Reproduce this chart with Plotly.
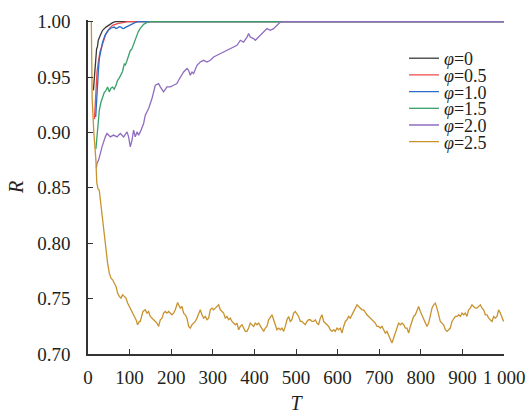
import plotly.graph_objects as go

# ---------------- data ----------------
names = ["φ=0", "φ=0.5", "φ=1.0", "φ=1.5", "φ=2.0", "φ=2.5"]
colors = ["#3a3a3a", "#ee4a4a", "#2a6cc8", "#3aa06a", "#8f6cbf", "#c8922e"]

phi00_T = [13, 15.1, 17.5, 20.7, 22.5, 24.8, 29.6, 35.1, 43.3, 51.2, 59.1, 66, 1000]
phi00_R = [0.938, 0.9486, 0.9636, 0.9757, 0.9770, 0.9832, 0.9877, 0.9922, 0.9951, 0.9973, 0.9991, 1.0, 1.0]

phi05_T = [15.5, 17.5, 19.2, 21.6, 24.8, 28.8, 32.7, 37.5, 43.3, 51.2, 59.1, 71.2, 87.3, 95, 1000]
phi05_R = [0.912, 0.925, 0.9426, 0.9546, 0.9636, 0.9726, 0.9771, 0.9832, 0.9892, 0.9937, 0.9967, 0.9982, 0.9996, 1.0, 1.0]

phi10_T = [18.5, 20, 21.6, 24.8, 27.2, 31.3, 35.1, 40.9, 48.8, 55.3, 63.2, 67, 71.2, 75, 79.3, 83, 85.6,
           91.3, 99.3, 107.2, 115.4, 122, 1000]
phi10_R = [0.914, 0.925, 0.9426, 0.9546, 0.9667, 0.9757, 0.9816, 0.9877, 0.9922, 0.9943, 0.9951, 0.9938,
           0.9943, 0.9955, 0.9951, 0.9940, 0.9937, 0.9951, 0.9967, 0.9982, 0.9996, 1.0, 1.0]

phi15_T = [19, 20.5, 23.1, 27.2, 31, 35.1, 39, 43.3, 47.1, 51.2, 55, 59.1, 63, 67.3, 71.2, 75, 79.3, 83,
           87.3, 90, 93.8, 97, 101.7, 105, 109.6, 113, 117.8, 121, 125.7, 133.7, 141.8, 150, 1000]
phi15_R = [0.885, 0.892, 0.905, 0.920, 0.927, 0.932, 0.936, 0.938, 0.941, 0.9366, 0.940, 0.941, 0.939,
           0.9426, 0.9471, 0.949, 0.953, 0.955, 0.962, 0.961, 0.965, 0.968, 0.974, 0.975, 0.980, 0.984,
           0.989, 0.991, 0.994, 0.9976, 0.9994, 1.0, 1.0]

phi20_T = [20, 21.6, 25.5, 29.6, 33.7, 41.6, 45.7, 53.6, 61.5, 69.7, 77.6, 85.6, 93.8, 97.6, 101.7, 105.8,
           109.6, 113.7, 117.8, 121.6, 125.7, 133.7, 137.7, 145.7, 153.8, 161.8, 169.7, 173.8, 181.7,
           189.9, 197.8, 205.8, 213.9, 217.8, 221.9, 229.8, 238.0, 241.8, 245.9, 250.0, 253.8, 262.0,
           270.0, 277.9, 286.1, 294.0, 301.9, 310.1, 318.0, 326.0, 334.1, 342.1, 350.0, 358.2, 366.1,
           374.0, 382.2, 386.1, 390.1, 398.1, 402.2, 406.3, 414.2, 422.1, 430.3, 438.2, 446.2, 454.3,
           458.2, 462.3, 470, 1000]
phi20_R = [0.868, 0.8721, 0.8750, 0.8811, 0.8870, 0.8960, 0.8991, 0.8960, 0.8976, 0.8960, 0.8991, 0.8960,
           0.9005, 0.8960, 0.8870, 0.8931, 0.9021, 0.8960, 0.9005, 0.8976, 0.9005, 0.9081, 0.9156,
           0.9216, 0.9306, 0.9426, 0.9441, 0.9411, 0.9366, 0.9411, 0.9411, 0.9426, 0.9441, 0.9471,
           0.9501, 0.9546, 0.9577, 0.9561, 0.9516, 0.9546, 0.9532, 0.9606, 0.9636, 0.9651, 0.9636,
           0.9651, 0.9681, 0.9696, 0.9712, 0.9726, 0.9741, 0.9757, 0.9771, 0.9786, 0.9832, 0.9816,
           0.9861, 0.9892, 0.9861, 0.9847, 0.9832, 0.9847, 0.9877, 0.9906, 0.9937, 0.9922, 0.9937,
           0.9967, 0.9982, 0.9996, 1.0, 1.0]

phi25_T = [8, 8.5, 10, 14, 19, 21, 24, 27, 31.3, 35.1, 39.2, 43.3, 47.1, 51.2, 55.3, 59.1, 63.2, 67.3,
           71.2, 75.2, 79.3, 83.2, 87.3, 91.3, 95.2, 99.3, 103.4, 107.2, 111.3, 115.4, 119.2, 123.3,
           125.7, 132.1, 137.7, 141.7, 145.7, 149.7, 157.8, 165.8, 169.8, 173.8, 177.8, 181.8, 185.8,
           189.8, 193.8, 197.8, 201.8, 205.8, 209.8, 213.8, 215.4, 217.8, 221.9, 225.9, 229.9, 233.9,
           237.9, 241.9, 245.9, 249.9, 253.9, 257.9, 261.9, 265.9, 269.9, 273.9, 278.0, 282.0, 286.0,
           290.0, 294.0, 298.0, 302.0, 306.0, 310.0, 314.0, 318.0, 322.0, 326.0, 330.0, 334.0, 338.0,
           342.1, 346.1, 350.1, 354.1, 358.1, 362.1, 366.1, 370.1, 374.1, 378.1, 382.1, 386.1, 390.1,
           394.1, 398.1, 402.1, 406.2, 410.2, 414.2, 418.2, 422.2, 426.2, 430.2, 434.2, 438.2, 442.2,
           446.2, 450.2, 454.2, 458.2, 462.2, 466.3, 470.3, 474.3, 478.3, 482.3, 486.3, 490.3, 494.3,
           498.3, 502.3, 506.3, 510.3, 514.3, 518.3, 522.3, 526.4, 530.4,
           534.4, 538.4, 542.4, 546.4, 550.4, 554.4, 558.4, 562.4, 566.5, 570.5, 574.5, 578.5, 582.5,
           586.5, 590.5, 594.5, 598.5, 602.5, 606.5, 610.5, 614.5, 618.5, 622.5, 626.5, 630.6, 634.6,
           638.6, 642.6, 646.6, 650.6, 654.6, 658.6, 662.6, 666.6, 670.6, 674.6, 678.6, 682.6, 686.6,
           690.7, 694.7, 698.7, 702.7, 706.7, 710.7, 714.7, 718.7, 722.7, 726.7, 730.7, 734.7, 738.7,
           742.7, 746.7, 750.8, 754.8, 758.8, 762.8, 766.8, 770.8, 774.8, 778.8, 782.8, 786.8, 790.8,
           794.8, 798.8, 802.8, 806.8, 810.9, 814.9, 818.9, 822.9, 826.9, 830.9, 834.9, 838.9, 842.9,
           846.9, 850.9, 854.9, 858.9, 862.9, 866.9, 870.9, 874.9, 879.0, 883.0, 887.0, 891.0, 895.0,
           899.0, 903.0, 907.0, 911.0, 915.0, 919.0, 923.0, 927.0, 931.1, 935.1, 939.1, 943.1, 947.1,
           951.1, 955.1, 959.1, 963.1, 967.1, 971.1, 975.1, 979.1, 983.1, 987.1, 991.1, 995.1, 999.1]
phi25_R = [1.0, 0.96, 0.93, 0.90, 0.875, 0.855, 0.849, 0.848, 0.833, 0.821, 0.806, 0.794, 0.782, 0.773,
           0.7685, 0.767, 0.764, 0.761, 0.755, 0.752, 0.7505, 0.7534, 0.752, 0.7505, 0.746, 0.743, 0.740,
           0.737, 0.734, 0.731, 0.7264, 0.7294,
           0.7294, 0.7384, 0.7399, 0.7369, 0.7384, 0.7339, 0.7309, 0.7279, 0.7249, 0.7309, 0.7324, 0.7369,
           0.7384, 0.7369, 0.7384, 0.7369, 0.7354, 0.7369, 0.7399, 0.7444, 0.7465, 0.7444, 0.7414, 0.7429,
           0.7369, 0.7354, 0.7324, 0.7249, 0.7234, 0.7264, 0.7279, 0.7294, 0.7324, 0.7369, 0.7399, 0.7354,
           0.7324, 0.7339, 0.7309, 0.7324, 0.7399, 0.7414, 0.7399, 0.7414, 0.7429, 0.7444, 0.7399, 0.7384,
           0.7369, 0.7324, 0.7339, 0.7309, 0.7324, 0.7294, 0.7279, 0.7264, 0.7279, 0.7219, 0.7249, 0.7264,
           0.7234, 0.7204, 0.7204, 0.7234, 0.7279, 0.7264, 0.7249, 0.7279, 0.7264, 0.7279, 0.7249, 0.7234,
           0.7204, 0.7234, 0.7249, 0.7309, 0.7339, 0.7354, 0.7309, 0.7264, 0.7219, 0.7234, 0.7219, 0.7234,
           0.7204, 0.7249, 0.7309, 0.7339, 0.7294, 0.7309, 0.7369, 0.7384, 0.7354, 0.7339, 0.7294, 0.7294,
           0.7279, 0.7264, 0.7294, 0.7309,
           0.7309, 0.7294, 0.7294, 0.7309, 0.7279, 0.7264, 0.7324, 0.7354, 0.7294, 0.7279, 0.7264, 0.7249,
           0.7219, 0.7204, 0.7219, 0.7204, 0.7234, 0.7219, 0.7234, 0.7189, 0.7249, 0.7294, 0.7309, 0.7339,
           0.7324, 0.7354, 0.7399, 0.7414, 0.7444, 0.7429, 0.7414, 0.7399, 0.7399, 0.7369, 0.7354, 0.7339,
           0.7324, 0.7309, 0.7294, 0.7279, 0.7249, 0.7249, 0.7234, 0.7249, 0.7219, 0.7189, 0.7204, 0.7174,
           0.7129, 0.7099, 0.7144, 0.7189, 0.7219, 0.7279, 0.7264, 0.7279, 0.7264, 0.7234, 0.7234, 0.7189,
           0.7249, 0.7294, 0.7339, 0.7354, 0.7384, 0.7429, 0.7384, 0.7354, 0.7324, 0.7294, 0.7249, 0.7279,
           0.7339, 0.7414, 0.7444, 0.7459, 0.7414, 0.7339, 0.7294, 0.7279, 0.7264, 0.7219, 0.7204, 0.7219,
           0.7234, 0.7294, 0.7324, 0.7339, 0.7339, 0.7354, 0.7339, 0.7369, 0.7354, 0.7369, 0.7339, 0.7399,
           0.7414, 0.7444, 0.7429, 0.7414, 0.7414, 0.7429, 0.7444, 0.7414, 0.7399, 0.7354, 0.7354, 0.7324,
           0.7309, 0.7294, 0.7339, 0.7324, 0.7339, 0.7399, 0.7369, 0.7324, 0.7294]

x_tickvals = [0, 100, 200, 300, 400, 500, 600, 700, 800, 900, 1000]
x_ticktext = ["0", "100", "200", "300", "400", "500", "600", "700", "800", "900", "1 000"]
y_tickvals = [0.70, 0.75, 0.80, 0.85, 0.90, 0.95, 1.00]
y_ticktext = ["0.70", "0.75", "0.80", "0.85", "0.90", "0.95", "1.00"]

series_T = [phi00_T, phi05_T, phi10_T, phi15_T, phi20_T, phi25_T]
series_R = [phi00_R, phi05_R, phi10_R, phi15_R, phi20_R, phi25_R]

# ---------------- figure ----------------
SERIF = "Liberation Serif"
INK = "#231f20"

fig = go.Figure()
legend_ids = ["legend", "legend2", "legend3", "legend4", "legend5", "legend6"]
for i, (nm, c, T, R) in enumerate(zip(names, colors, series_T, series_R)):
    label = "<i>φ</i>" + nm[1:]
    fig.add_trace(go.Scatter(x=T, y=R, mode="lines", name=label,
                             line=dict(color=c, width=1.3),
                             legend=legend_ids[i], showlegend=True))

W, H = 528, 414
ml, mr, mt, mb = 88, 24, 20, 60
plot_h = H - mt - mb
layout_legends = {}
for i, lid in enumerate(legend_ids):
    y_px = 58.5 + i * 16.7
    layout_legends[lid] = dict(
        x=(404 - ml) / (W - ml - mr), xanchor="left",
        y=(H - mb - y_px) / plot_h, yanchor="middle",
        bgcolor="rgba(0,0,0,0)", borderwidth=0,
        font=dict(family=SERIF, size=18, color=INK),
        itemwidth=30, visible=True,
    )

fig.update_layout(
    width=W, height=H,
    margin=dict(l=ml, r=mr, t=mt, b=mb, autoexpand=False),
    paper_bgcolor="white", plot_bgcolor="white",
    font=dict(family=SERIF, size=19, color=INK),
    showlegend=True,
    **layout_legends,
)

fig.update_xaxes(
    range=[0, 1000], tickvals=x_tickvals, ticktext=x_ticktext, automargin=False,
    showgrid=False, zeroline=False, showline=True, linecolor="#333333", linewidth=1.5,
    ticks="inside", ticklen=5, tickwidth=1.3, tickcolor="#333333",
    tickfont=dict(family=SERIF, size=19, color=INK), ticklabelstandoff=5,
    title=dict(text="<i>T</i>", font=dict(family=SERIF, size=20, color=INK), standoff=15),
)
fig.update_yaxes(
    range=[0.70, 1.0015], tickvals=y_tickvals, ticktext=y_ticktext, automargin=False,
    showgrid=False, zeroline=False, showline=True, linecolor="#333333", linewidth=1.5,
    ticks="inside", ticklen=5, tickwidth=1.3, tickcolor="#333333",
    tickfont=dict(family=SERIF, size=19, color=INK), ticklabelstandoff=12,
    title=dict(text="<i>R</i>", font=dict(family=SERIF, size=20, color=INK), standoff=8),
)

fig.write_html("out.html", config={"displayModeBar": False},
               post_script="document.body.style.margin='0';document.body.style.padding='0';")
